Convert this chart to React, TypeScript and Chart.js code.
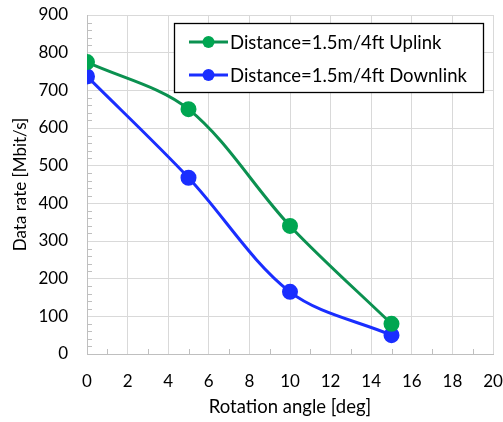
import React, { useEffect, useRef } from "react";
import { Chart, registerables } from "chart.js";

Chart.register(...registerables);

const angles = [0, 5, 10, 15];
const uplink = [775, 650, 340, 80];
const downlink = [737, 468, 165, 50];
const seriesNames = ["Distance=1.5m/4ft Uplink", "Distance=1.5m/4ft Downlink"];
const xTitle = "Rotation angle [deg]";
const yTitle = "Data rate [Mbit/s]";

const GREEN_LINE = "#0B9150";
const GREEN_PT = "#00A651";
const BLUE = "#1A2EFF";
const FONT = "Lato, 'Open Sans', sans-serif";

const minorTicks = {
  id: "minorTicks",
  beforeDatasetsDraw(chart: any) {
    const { ctx } = chart;
    const xs = chart.scales.x;
    const ys = chart.scales.y;
    ctx.save();
    ctx.strokeStyle = "#BFBFBF";
    ctx.lineWidth = 1;
    ctx.beginPath();
    for (let v = 0; v <= 900; v += 20) {
      if (v % 100 === 0) continue;
      const y = Math.round(ys.getPixelForValue(v)) + 0.5;
      ctx.moveTo(xs.left, y);
      ctx.lineTo(xs.left + 5, y);
    }
    for (let v = 1; v < 20; v += 2) {
      const x = Math.round(xs.getPixelForValue(v)) + 0.5;
      ctx.moveTo(x, ys.bottom);
      ctx.lineTo(x, ys.bottom - 5);
    }
    ctx.stroke();
    ctx.restore();
  },
};

const boxLegend = {
  id: "boxLegend",
  afterDraw(chart: any) {
    const { ctx } = chart;
    ctx.save();
    ctx.fillStyle = "#FFFFFF";
    ctx.fillRect(174, 23, 309, 70);
    ctx.strokeStyle = "#000000";
    ctx.lineWidth = 1.3;
    ctx.strokeRect(174.5, 23.5, 309, 69);
    const rows = [
      { y: 42, line: GREEN_LINE, pt: GREEN_PT },
      { y: 75, line: BLUE, pt: BLUE },
    ];
    ctx.font = `18.5px ${FONT}`;
    ctx.textBaseline = "middle";
    ctx.textAlign = "left";
    rows.forEach((r, i) => {
      ctx.strokeStyle = r.line;
      ctx.lineWidth = 3;
      ctx.beginPath();
      ctx.moveTo(189, r.y);
      ctx.lineTo(228, r.y);
      ctx.stroke();
      ctx.fillStyle = r.pt;
      ctx.beginPath();
      ctx.arc(208.5, r.y, 6, 0, Math.PI * 2);
      ctx.fill();
      ctx.fillStyle = "#000000";
      ctx.fillText(seriesNames[i], 230, r.y + 1);
    });
    ctx.restore();
  },
};

export default function App() {
  const ref = useRef<HTMLCanvasElement>(null);
  useEffect(() => {
    document.body.style.margin = "0";
    const chart = new Chart(ref.current!, {
      type: "scatter",
      data: {
        datasets: [
          {
            label: seriesNames[0],
            data: angles.map((a, i) => ({ x: a, y: uplink[i] })),
            showLine: true,
            borderColor: GREEN_LINE,
            backgroundColor: GREEN_PT,
            pointBackgroundColor: GREEN_PT,
            pointBorderColor: GREEN_PT,
            borderWidth: 3,
            pointRadius: 6.5,
            tension: 0.33,
          },
          {
            label: seriesNames[1],
            data: angles.map((a, i) => ({ x: a, y: downlink[i] })),
            showLine: true,
            borderColor: BLUE,
            backgroundColor: BLUE,
            pointBackgroundColor: BLUE,
            pointBorderColor: BLUE,
            borderWidth: 3,
            pointRadius: 6.5,
            tension: 0.33,
          },
        ],
      },
      options: {
        animation: false,
        responsive: false,
        devicePixelRatio: 1,
        layout: { padding: { left: 0, right: 10, top: 15, bottom: 0 } },
        plugins: { legend: { display: false }, tooltip: { enabled: false } },
        scales: {
          x: {
            type: "linear",
            min: 0,
            max: 20,
            ticks: { stepSize: 2, color: "#000", padding: 17, font: { family: FONT, size: 17 } },
            grid: { color: "#D9D9D9", drawTicks: false },
            border: { color: "#BFBFBF" },
            title: { display: true, text: xTitle, color: "#000", font: { family: FONT, size: 18.5 }, padding: { top: 0, bottom: 4 } },
            afterFit(s: any) {
              s.height = 68;
              s.paddingLeft = 0;
              s.paddingRight = 0;
            },
          },
          y: {
            type: "linear",
            min: 0,
            max: 900,
            ticks: { stepSize: 100, color: "#000", padding: 19, font: { family: FONT, size: 17 } },
            grid: { color: "#D9D9D9", drawTicks: false },
            border: { color: "#BFBFBF" },
            title: { display: true, text: yTitle, color: "#000", font: { family: FONT, size: 17 }, padding: { top: 10, bottom: 0 } },
            afterFit(s: any) {
              s.width = 87;
              s.paddingTop = 0;
              s.paddingBottom = 0;
            },
          },
        },
      },
      plugins: [minorTicks, boxLegend],
    });
    return () => chart.destroy();
  }, []);
  return (
    <div style={{ position: "relative", width: 503, height: 422, overflow: "hidden", background: "#fff" }}>
      <canvas ref={ref} width={503} height={422} style={{ display: "block" }} />
    </div>
  );
}
